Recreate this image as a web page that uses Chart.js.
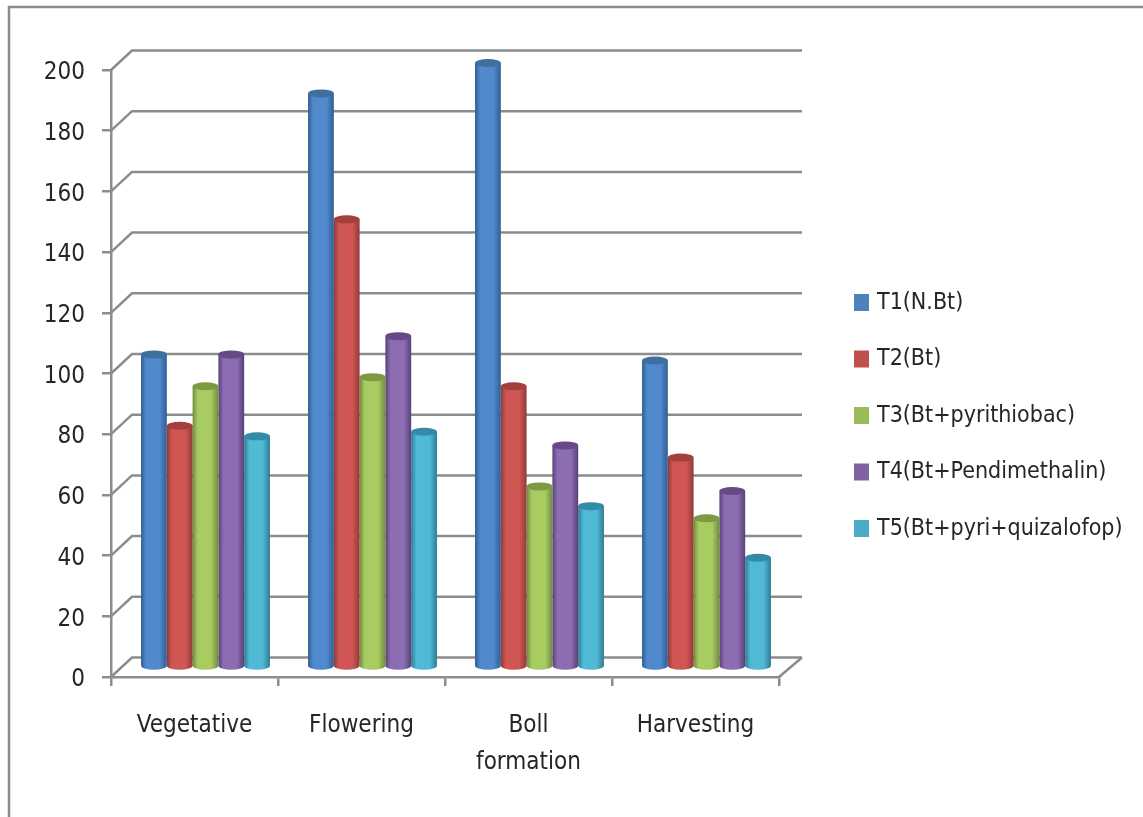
<!DOCTYPE html>
<html>
<head>
<meta charset="utf-8">
<title>Treatments by crop stage</title>
<script src="https://cdn.jsdelivr.net/npm/chart.js@4"></script>
<style>
  html, body { margin: 0; background: #fff; }
  canvas { display: block; }
</style>
</head>
<body>
<canvas id="myChart" width="1143" height="817"></canvas>
<script>
const stages = ['Vegetative', 'Flowering', ['Boll', 'formation'], 'Harvesting'];
const names = ['T1(N.Bt)', 'T2(Bt)', 'T3(Bt+pyrithiobac)', 'T4(Bt+Pendimethalin)', 'T5(Bt+pyri+quizalofop)'];
const t1 = [103, 189, 199, 101];
const t2 = [79.5, 147.5, 92.5, 69];
const t3 = [92.5, 95.5, 59.5, 49];
const t4 = [103, 109, 73, 58];
const t5 = [76, 77.5, 53, 36];
const series = [t1, t2, t3, t4, t5];

const legendColors = ['#4f81bd', '#c0504d', '#9bbb59', '#8064a2', '#4bacc6'];
// edge, middle, cap for each cylinder
const shades = {
  '#4f81bd': ['#2f5f92', '#5089cc', '#3f6f9f'],
  '#c0504d': ['#8f3b39', '#cf5653', '#a33f3c'],
  '#9bbb59': ['#6f8c3c', '#a8cb62', '#7d9a42'],
  '#8064a2': ['#574177', '#8c6db2', '#654a85'],
  '#4bacc6': ['#2f7c92', '#4fb9d6', '#338ba5']
};
const lineColor = '#8c8c8c';
const textColor = '#262626';
const font = '"DejaVu Sans Condensed", "DejaVu Sans", sans-serif';

// depth of the 3d box and where the bars stand inside it
const depthX = 21, depthY = 19.5;
const barShiftX = 11, barShiftY = 10;
const capRadius = 4;

// bars become cylinders
Chart.BarElement.prototype.draw = function (ctx) {
  const { x, y, base, width } = this.getProps(['x', 'y', 'base', 'width']);
  const c = shades[this.options.backgroundColor];
  const l = x + barShiftX - width / 2;
  const r = l + width;
  const mid = x + barShiftX;
  const top = y - barShiftY;
  const bottom = base - barShiftY;

  const g = ctx.createLinearGradient(l, 0, r, 0);
  g.addColorStop(0, c[0]);
  g.addColorStop(0.2, c[1]);
  g.addColorStop(0.72, c[1]);
  g.addColorStop(1, c[0]);

  ctx.save();
  ctx.fillStyle = g;
  ctx.beginPath();
  ctx.moveTo(l, top);
  ctx.lineTo(l, bottom);
  ctx.ellipse(mid, bottom, width / 2, capRadius, 0, Math.PI, 0, true);
  ctx.lineTo(r, top);
  ctx.closePath();
  ctx.fill();
  ctx.fillStyle = c[2];
  ctx.beginPath();
  ctx.ellipse(mid, top, width / 2, capRadius, 0, 0, Math.PI * 2);
  ctx.fill();
  ctx.restore();
};

const box3d = {
  id: 'box3d',
  beforeDraw(chart) {
    // outer frame runs off the page on the right and bottom
    const ctx = chart.ctx;
    ctx.save();
    ctx.strokeStyle = lineColor;
    ctx.lineWidth = 2.5;
    ctx.strokeRect(9, 7, 1300, 1000);
    ctx.restore();
  },
  beforeDatasetsDraw(chart) {
    const { ctx, chartArea, scales } = chart;
    ctx.save();
    ctx.strokeStyle = lineColor;
    ctx.lineWidth = 2.5;
    scales.y.ticks.forEach(t => {
      const py = scales.y.getPixelForValue(t.value);
      ctx.beginPath();
      ctx.moveTo(chartArea.left, py);
      ctx.lineTo(chartArea.left + depthX, py - depthY);
      ctx.lineTo(chartArea.right + depthX + 2, py - depthY);
      ctx.stroke();
    });
    ctx.beginPath();
    ctx.moveTo(chartArea.right, chartArea.bottom);
    ctx.lineTo(chartArea.right + depthX + 2, chartArea.bottom - depthY);
    ctx.stroke();
    ctx.restore();
  }
};

const sideLegend = {
  id: 'sideLegend',
  afterDraw(chart) {
    const ctx = chart.ctx;
    ctx.save();
    ctx.font = '23px ' + font;
    ctx.textBaseline = 'middle';
    chart.data.datasets.forEach((d, i) => {
      const cy = 302 + i * 56.5;
      ctx.fillStyle = legendColors[i];
      ctx.fillRect(854, cy - 8, 15, 17);
      ctx.fillStyle = textColor;
      ctx.fillText(d.label, 877, cy + 1);
    });
    ctx.restore();
  }
};

const ctx = document.getElementById('myChart');

new Chart(ctx, {
  type: 'bar',
  data: {
    labels: stages,
    datasets: series.map((values, i) => ({
      label: names[i],
      data: values,
      backgroundColor: legendColors[i],
      clip: false
    }))
  },
  options: {
    responsive: false,
    animation: false,
    categoryPercentage: 0.772,
    barPercentage: 1,
    layout: { padding: { top: 70, right: 364 } },
    plugins: {
      legend: { display: false },
      tooltip: { enabled: false }
    },
    scales: {
      x: {
        afterFit(s) { s.height = 140; },
        border: { color: lineColor, width: 2.5 },
        grid: { drawOnChartArea: false, color: lineColor, lineWidth: 2.5, tickLength: 9 },
        ticks: {
          color: textColor,
          maxRotation: 0,
          autoSkip: false,
          padding: 21,
          font: { family: font, size: 24, lineHeight: 1.54 }
        }
      },
      y: {
        min: 0,
        max: 200,
        afterFit(s) { s.width = 111; },
        border: { color: lineColor, width: 2.5 },
        grid: { drawOnChartArea: false, color: lineColor, lineWidth: 2.5, tickLength: 9 },
        ticks: {
          stepSize: 20,
          color: textColor,
          padding: 17,
          labelOffset: 3,
          font: { family: font, size: 24 }
        }
      }
    }
  },
  plugins: [box3d, sideLegend]
});
</script>
</body>
</html>
